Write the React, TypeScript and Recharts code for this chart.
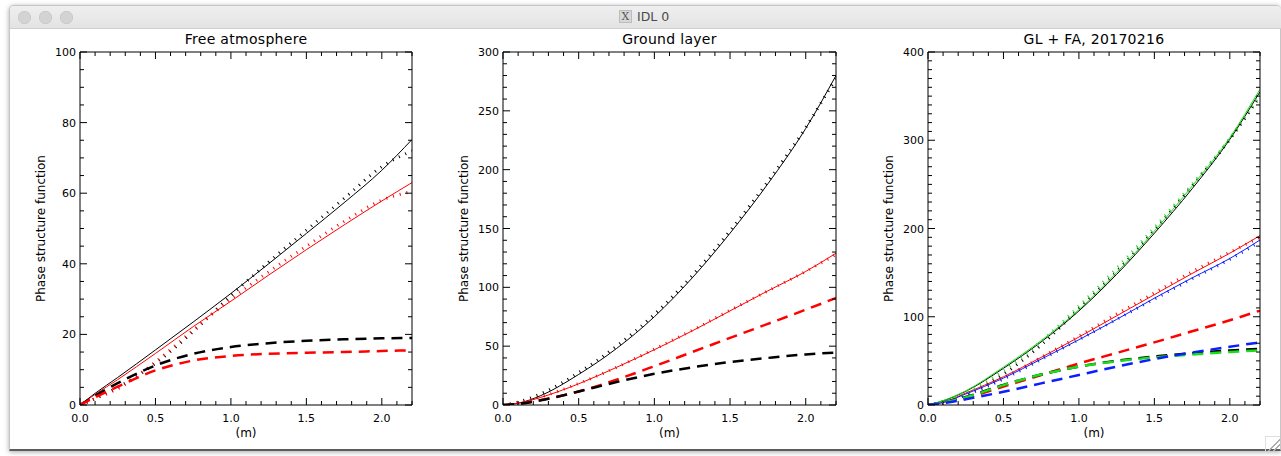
import React from 'react';
import { LineChart, Line, XAxis, YAxis } from 'recharts';

// ---------- shared x positions (m) ----------
const xs = [0, 0.1, 0.25, 0.5, 0.75, 1.0, 1.25, 1.5, 1.75, 2.0, 2.2];

// ---------- Panel 1: Free atmosphere ----------
const faBlackSolid = [0, 3.3, 7.8, 15.6, 23.5, 31.6, 40, 48.6, 57.3, 66.5, 75.2];
const faBlackDot = [0, 1.8, 5, 11.8, 20.8, 31, 40.5, 49.5, 58.5, 67.5, 72];
const faRedSolid = [0, 3, 7.2, 14.6, 22.2, 29.4, 36.8, 44, 51, 57.8, 63];
const faRedDot = [0, 1.8, 4.6, 12.2, 21.2, 30, 37.7, 45, 52, 58, 60.5];
const faBlackDash = [0, 2.6, 6.2, 11.2, 14.5, 16.4, 17.5, 18.2, 18.6, 18.9, 19];
const faRedDash = [0, 2.2, 5.2, 9.8, 12.6, 13.9, 14.5, 14.8, 15, 15.3, 15.5];

// ---------- Panel 2: Ground layer ----------
const glBlackSolid = [0, 1.5, 8, 26, 48, 75, 108, 146, 188, 235, 280];
const glBlackDot = [0, 2.5, 9.5, 27.5, 50, 77, 110, 148, 190, 236, 278];
const glRedSolid = [0, 1.5, 6.5, 18, 32, 47, 63, 80, 97, 113.5, 129];
const glRedDot = [0, 1.5, 6.8, 18.3, 32, 47.5, 63.5, 80.5, 97, 113.5, 128];
const glRedDash = [0, 1, 4.2, 11.5, 21.5, 33, 45, 57, 69, 81, 91];
const glBlackDash = [0, 1, 4, 11.5, 19.5, 26.5, 32, 36.5, 40, 43, 44.5];

// ---------- Panel 3: GL + FA, 20170216 ----------
const sumBlackSolid = [0, 4.7, 15.5, 41.6, 71.5, 106.6, 148, 194.6, 245, 301, 355];
const sumGreenSolid = [0, 5, 16, 43, 73, 108, 150, 197, 248, 303, 358];
const sumBlackDot = [0, 3.5, 12, 35, 68, 109, 151, 198, 248, 301, 350];
const sumGreenDot = [0, 4, 14, 39, 72, 112, 155, 201, 250, 302, 352];
const sumRedSolid = [0, 3, 13.5, 32, 54, 77, 101, 125, 149, 172, 192];
const sumBlueSolid = [0, 2.8, 12.5, 30.5, 52, 74, 97, 121, 144, 166, 187];
const sumRedDot = [0, 2.5, 12, 31, 54, 78, 103, 127, 151, 173, 190];
const sumBlueDot = [0, 2.2, 11, 29.5, 51.5, 74, 97, 120, 143, 165, 185];
const sumRedDash = [0, 2.5, 8, 21, 34, 47, 59, 71, 83.5, 96, 107];
const sumBlackDash = [0, 3, 9, 22.8, 34.5, 43.5, 50, 54.9, 58.7, 61.8, 63.5];
const sumGreenDash = [0, 2.8, 8.6, 22.5, 34.5, 43.5, 49.5, 54, 57.3, 60, 62];
const sumBlueDash = [0, 2, 6.5, 15, 24.5, 34, 43.5, 52, 59.5, 66, 71];

// ---------- ticks / labels ----------
const xMajorTicks = [0, 0.5, 1.0, 1.5, 2.0];
const xTickLabels = ['0.0', '0.5', '1.0', '1.5', '2.0'];
const p1YMajor = [0, 20, 40, 60, 80, 100];
const p2YMajor = [0, 50, 100, 150, 200, 250, 300];
const p3YMajor = [0, 100, 200, 300, 400];

const titles = ['Free atmosphere', 'Ground layer', 'GL + FA, 20170216'];
const xLabel = '(m)';
const yLabel = 'Phase structure function';

const FONT = 'DejaVu Sans, Verdana, sans-serif';

function steps(max: number, step: number): number[] {
  const out: number[] = [];
  const n = Math.round(max / step);
  for (let i = 0; i <= n; i++) out.push(Math.round(i * step * 1000) / 1000);
  return out;
}

type SeriesDef = { key: string; values: number[]; color: string; style: 'solid' | 'dot' | 'dash' };

function buildRows(series: SeriesDef[]) {
  return xs.map((x, i) => {
    const row: any = { x };
    series.forEach((s) => (row[s.key] = s.values[i]));
    return row;
  });
}

function isMajor(v: number, majors: number[]) {
  return majors.some((m) => Math.abs(m - v) < 1e-6);
}

function makeTick(orient: 'bottom' | 'top' | 'left' | 'right', majors: number[], labels?: string[]) {
  return (props: any) => {
    const { x, y, payload } = props;
    const v = payload.value;
    const major = isMajor(v, majors);
    const len = major ? 7 : 4;
    let line;
    let text = null;
    if (orient === 'bottom') {
      line = <line x1={x} y1={y} x2={x} y2={y - len} stroke="#000" strokeWidth={1} />;
      if (major && labels) {
        const idx = majors.findIndex((m) => Math.abs(m - v) < 1e-6);
        text = (
          <text x={x} y={y + 17} textAnchor="middle" fontFamily={FONT} fontSize={11} fill="#000">
            {labels[idx]}
          </text>
        );
      }
    } else if (orient === 'top') {
      line = <line x1={x} y1={y} x2={x} y2={y + len} stroke="#000" strokeWidth={1} />;
    } else if (orient === 'left') {
      line = <line x1={x} y1={y} x2={x + len} y2={y} stroke="#000" strokeWidth={1} />;
      if (major && labels) {
        const idx = majors.findIndex((m) => Math.abs(m - v) < 1e-6);
        text = (
          <text x={x - 4} y={y + 4} textAnchor="end" fontFamily={FONT} fontSize={11} fill="#000">
            {labels[idx]}
          </text>
        );
      }
    } else {
      line = <line x1={x} y1={y} x2={x - len} y2={y} stroke="#000" strokeWidth={1} />;
    }
    return (
      <g>
        {line}
        {text}
      </g>
    );
  };
}

type PanelProps = {
  plotLeft: number;
  plotW: number;
  yMax: number;
  yMajors: number[];
  yMinorStep: number;
  series: SeriesDef[];
};

function Panel({ plotLeft, plotW, yMax, yMajors, yMinorStep, series }: PanelProps) {
  const data = buildRows(series);
  const xTicks = steps(2.2, 0.1);
  const yTicks = steps(yMax, yMinorStep);
  const yLabels = yMajors.map((v) => String(v));
  const axisLine = { stroke: '#000', strokeWidth: 1 };
  return (
    <div style={{ position: 'absolute', left: plotLeft - 60, top: 0 }}>
      <LineChart width={60 + plotW + 10} height={456} data={data} margin={{ top: 0, right: 0, bottom: 0, left: 0 }}>
        <XAxis
          xAxisId="b"
          dataKey="x"
          type="number"
          domain={[0, 2.2]}
          allowDataOverflow
          ticks={xTicks}
          interval={0}
          orientation="bottom"
          height={51}
          tickSize={0}
          tickMargin={0}
          tickLine={false}
          axisLine={axisLine}
          tick={makeTick('bottom', xMajorTicks, xTickLabels)}
        />
        <XAxis
          xAxisId="t"
          dataKey="x"
          type="number"
          domain={[0, 2.2]}
          allowDataOverflow
          ticks={xTicks}
          interval={0}
          orientation="top"
          height={52}
          tickSize={0}
          tickMargin={0}
          tickLine={false}
          axisLine={axisLine}
          tick={makeTick('top', xMajorTicks)}
        />
        <YAxis
          yAxisId="l"
          type="number"
          domain={[0, yMax]}
          allowDataOverflow
          ticks={yTicks}
          interval={0}
          orientation="left"
          width={60}
          tickSize={0}
          tickMargin={0}
          tickLine={false}
          axisLine={axisLine}
          tick={makeTick('left', yMajors, yLabels)}
        />
        <YAxis
          yAxisId="r"
          type="number"
          domain={[0, yMax]}
          allowDataOverflow
          ticks={yTicks}
          interval={0}
          orientation="right"
          width={10}
          tickSize={0}
          tickMargin={0}
          tickLine={false}
          axisLine={axisLine}
          tick={makeTick('right', yMajors)}
        />
        {series.map((s) => (
          <Line
            key={s.key}
            xAxisId="b"
            yAxisId="l"
            dataKey={s.key}
            type="monotone"
            stroke={s.color}
            strokeWidth={s.style === 'solid' ? 1 : s.style === 'dash' ? 2.5 : 3}
            strokeDasharray={s.style === 'dash' ? '11 7' : s.style === 'dot' ? '1 6' : undefined}
            dot={false}
            activeDot={false}
            isAnimationActive={false}
          />
        ))}
      </LineChart>
    </div>
  );
}

const RED = '#ff0000';
const BLACK = '#000000';
const GREEN = '#18e018';
const BLUE = '#0a1eff';

const panel1: SeriesDef[] = [
  { key: 'bs', values: faBlackSolid, color: BLACK, style: 'solid' },
  { key: 'bd', values: faBlackDot, color: BLACK, style: 'dot' },
  { key: 'rs', values: faRedSolid, color: RED, style: 'solid' },
  { key: 'rd', values: faRedDot, color: RED, style: 'dot' },
  { key: 'bk', values: faBlackDash, color: BLACK, style: 'dash' },
  { key: 'rk', values: faRedDash, color: RED, style: 'dash' },
];

const panel2: SeriesDef[] = [
  { key: 'bs', values: glBlackSolid, color: BLACK, style: 'solid' },
  { key: 'bd', values: glBlackDot, color: BLACK, style: 'dot' },
  { key: 'rs', values: glRedSolid, color: RED, style: 'solid' },
  { key: 'rd', values: glRedDot, color: RED, style: 'dot' },
  { key: 'rk', values: glRedDash, color: RED, style: 'dash' },
  { key: 'bk', values: glBlackDash, color: BLACK, style: 'dash' },
];

const panel3: SeriesDef[] = [
  { key: 'bs', values: sumBlackSolid, color: BLACK, style: 'solid' },
  { key: 'bd', values: sumBlackDot, color: BLACK, style: 'dot' },
  { key: 'rs', values: sumRedSolid, color: RED, style: 'solid' },
  { key: 'rd', values: sumRedDot, color: RED, style: 'dot' },
  { key: 'us', values: sumBlueSolid, color: BLUE, style: 'solid' },
  { key: 'ud', values: sumBlueDot, color: BLUE, style: 'dot' },
  { key: 'gs', values: sumGreenSolid, color: GREEN, style: 'solid' },
  { key: 'gd', values: sumGreenDot, color: GREEN, style: 'dot' },
  { key: 'rk', values: sumRedDash, color: RED, style: 'dash' },
  { key: 'bk', values: sumBlackDash, color: BLACK, style: 'dash' },
  { key: 'gk', values: sumGreenDash, color: GREEN, style: 'dash' },
  { key: 'uk', values: sumBlueDash, color: BLUE, style: 'dash' },
];

const panelLefts = [80, 503, 928];
const panelWidths = [332, 333, 332];

export default function App() {
  return (
    <div style={{ position: 'absolute', left: 0, top: 0, width: 1281, height: 456, background: '#ffffff', overflow: 'hidden' }}>
      {/* window frame */}
      <div
        style={{
          position: 'absolute',
          left: 9,
          top: 5,
          width: 1272,
          height: 446,
          boxSizing: 'border-box',
          border: '1px solid #c6c6c6',
          borderBottom: '2px solid #5c5c5c',
          borderRadius: '5px 5px 0 0',
          background: '#ffffff',
          boxShadow: '0 1px 5px rgba(0,0,0,0.35)',
        }}
      />
      {/* title bar */}
      <div
        style={{
          position: 'absolute',
          left: 10,
          top: 6,
          width: 1271,
          height: 22,
          background: 'linear-gradient(#efefef, #e3e3e3)',
          borderBottom: '1px solid #cfcfcf',
          borderRadius: '4px 4px 0 0',
        }}
      />
      {[24, 45, 66].map((cx) => (
        <div
          key={cx}
          style={{
            position: 'absolute',
            left: cx - 6.5,
            top: 10.5,
            width: 13,
            height: 13,
            borderRadius: '50%',
            background: '#d3d3d3',
            boxShadow: 'inset 0 0 0 0.5px #c2c2c2',
          }}
        />
      ))}
      <div
        style={{
          position: 'absolute',
          left: 619,
          top: 10,
          width: 13,
          height: 13,
          background: '#d8d8d8',
          border: '1px solid #bcbcbc',
          boxSizing: 'border-box',
          color: '#555',
          fontFamily: 'DejaVu Serif, serif',
          fontSize: 11,
          lineHeight: '11px',
          textAlign: 'center',
        }}
      >
        X
      </div>
      <div
        style={{
          position: 'absolute',
          left: 637,
          top: 9,
          fontFamily: FONT,
          fontSize: 12.5,
          color: '#4a4a4a',
          lineHeight: '15px',
        }}
      >
        IDL 0
      </div>
      {/* resize grip */}
      <div
        style={{
          position: 'absolute',
          left: 1265,
          top: 436,
          width: 14,
          height: 14,
          borderLeft: '1px solid #e0e0e0',
          borderTop: '1px solid #e0e0e0',
          background:
            'linear-gradient(135deg, transparent 55%, #aaa 55%, #aaa 62%, transparent 62%, transparent 72%, #aaa 72%, #aaa 79%, transparent 79%)',
        }}
      />

      <Panel plotLeft={panelLefts[0]} plotW={panelWidths[0]} yMax={100} yMajors={p1YMajor} yMinorStep={5} series={panel1} />
      <Panel plotLeft={panelLefts[1]} plotW={panelWidths[1]} yMax={300} yMajors={p2YMajor} yMinorStep={10} series={panel2} />
      <Panel plotLeft={panelLefts[2]} plotW={panelWidths[2]} yMax={400} yMajors={p3YMajor} yMinorStep={10} series={panel3} />

      {/* titles and axis labels */}
      <svg width={1281} height={456} style={{ position: 'absolute', left: 0, top: 0, pointerEvents: 'none' }}>
        {titles.map((t, i) => {
          const cx = panelLefts[i] + panelWidths[i] / 2;
          return (
            <g key={t}>
              <text x={cx} y={44} textAnchor="middle" fontFamily={FONT} fontSize={14} letterSpacing={0.3} fill="#000">
                {t}
              </text>
              <text x={cx} y={437} textAnchor="middle" fontFamily={FONT} fontSize={12} fill="#000">
                {xLabel}
              </text>
              <text
                x={panelLefts[i] - 35}
                y={228.5}
                textAnchor="middle"
                fontFamily={FONT}
                fontSize={12}
                fill="#000"
                transform={`rotate(-90 ${panelLefts[i] - 35} 228.5)`}
              >
                {yLabel}
              </text>
            </g>
          );
        })}
      </svg>
    </div>
  );
}
